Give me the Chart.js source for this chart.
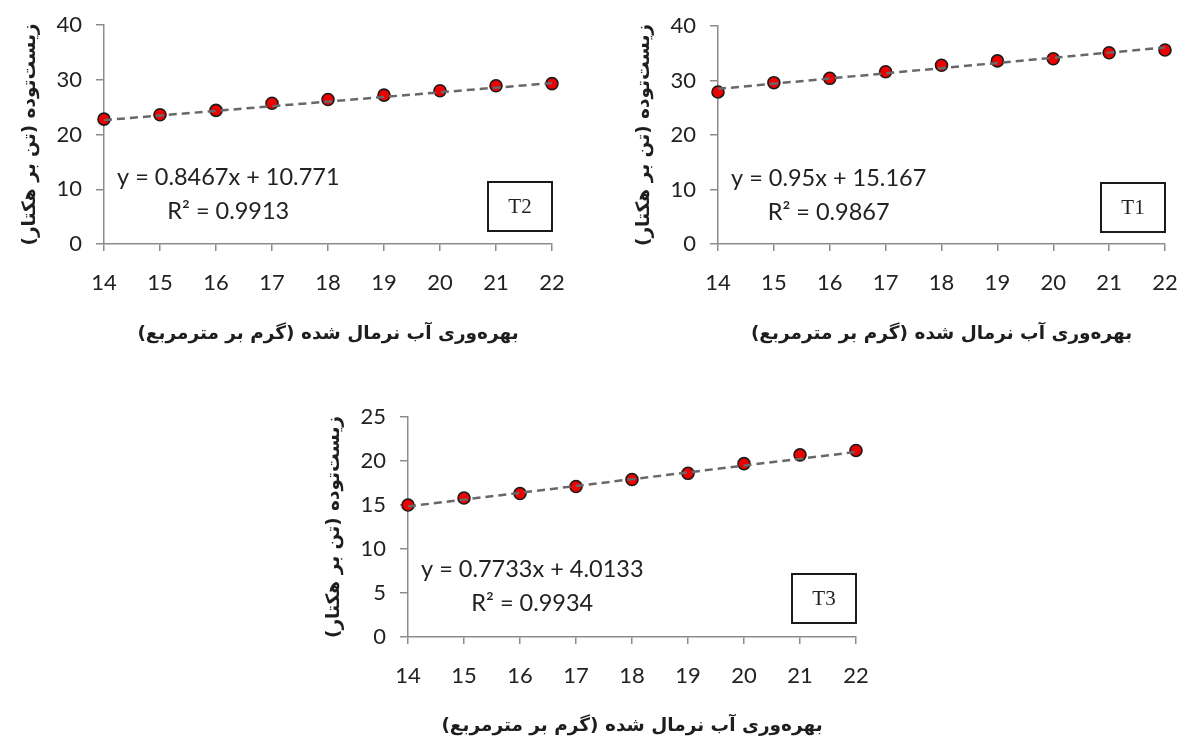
<!DOCTYPE html>
<html lang="fa">
<head>
<meta charset="utf-8">
<title>زیست‌توده و بهره‌وری آب</title>
<script src="https://cdn.jsdelivr.net/npm/chart.js@4.4.1/dist/chart.umd.min.js"></script>
<style>
  html, body { margin: 0; padding: 0; background: #ffffff; }
  body { position: relative; width: 1184px; height: 740px; overflow: hidden; }
  .panel { position: absolute; }
  .panel canvas { display: block; }
</style>
</head>
<body>
<div class="panel" id="panel-t2" style="left:0px;top:0px;"><canvas id="chart-t2" width="580" height="350"></canvas></div>
<div class="panel" id="panel-t1" style="left:600px;top:0px;"><canvas id="chart-t1" width="584" height="350"></canvas></div>
<div class="panel" id="panel-t3" style="left:300px;top:390px;"><canvas id="chart-t3" width="570" height="350"></canvas></div>

<script>
// Normalised water productivity (g/m²) on the x axis
const xValues = [14, 15, 16, 17, 18, 19, 20, 21, 22];

// Biomass (t/ha) for each treatment
const t1Biomass = [27.9, 29.6, 30.4, 31.6, 32.8, 33.6, 34.0, 35.1, 35.6];
const t2Biomass = [22.8, 23.6, 24.4, 25.7, 26.4, 27.2, 28.0, 28.9, 29.3];
const t3Biomass = [15.0, 15.8, 16.3, 17.1, 17.9, 18.6, 19.7, 20.7, 21.2];

// Linear fits as reported for each treatment
const treatmentNames = ['T1', 'T2', 'T3'];
const fitSlopes = [0.95, 0.8467, 0.7733];
const fitIntercepts = [15.167, 10.771, 4.0133];
const fitR2 = [0.9867, 0.9913, 0.9934];

// Axis ranges and tick spacing
const xTickMin = 14;
const xTickMax = 22;
const yTickMax = [40, 40, 25];
const yTickStep = [10, 10, 5];

// Axis titles
const xTitle = 'بهره‌وری آب نرمال شده (گرم بر مترمربع)';
const yTitle = 'زیست‌توده (تن بر هکتار)';

// Right-to-left marks keep the closing parenthesis on the correct side
const rtl = s => '\u200F' + s + '\u200F';

const TEXT = '#222222';
const AXIS = '#8c8c8c';

// Equation, R² and the treatment box inside each plot area
const fitLabelPlugin = {
  id: 'fitLabel',
  afterDatasetsDraw(chart, args, opts) {
    const { ctx, chartArea: a } = chart;
    ctx.save();
    ctx.fillStyle = TEXT;
    ctx.font = '23.5px Lato';
    ctx.textBaseline = 'middle';
    const eq = 'y = ' + opts.slope + 'x + ' + opts.intercept;
    const eqLeft = a.left + 13;
    const eqWidth = ctx.measureText(eq).width;
    ctx.textAlign = 'left';
    ctx.fillText(eq, eqLeft, a.top + 152);
    ctx.textAlign = 'center';
    ctx.fillText('R² = ' + opts.r2, eqLeft + eqWidth / 2, a.top + 186);

    const bw = 64, bh = 49;
    const bx = a.right - bw, by = a.top + 157;
    ctx.lineWidth = 2;
    ctx.strokeStyle = '#1a1a1a';
    ctx.strokeRect(bx, by, bw, bh);
    ctx.font = '21px "Liberation Serif"';
    ctx.fillText(opts.label, bx + bw / 2, by + bh / 2 + 1);
    ctx.restore();
  }
};

function buildPanel(canvasId, series, i, layout) {
  const slope = fitSlopes[i];
  const intercept = fitIntercepts[i];
  const points = xValues.map((x, k) => ({ x: x, y: series[k] }));
  const trend = [xTickMin, xTickMax].map(x => ({ x: x, y: slope * x + intercept }));

  const yAxisWidth = 88;
  const padLeft = layout.areaLeft - yAxisWidth;
  const padRight = layout.canvasWidth - layout.areaRight;
  const padBottom = layout.canvasHeight - layout.titleY - 12;
  const xAxisHeight = layout.titleY + 12 - layout.areaBottom;

  return new Chart(document.getElementById(canvasId), {
    type: 'scatter',
    data: {
      datasets: [
        {
          type: 'line',
          data: trend,
          borderColor: '#686868',
          borderWidth: 2.5,
          borderDash: [8, 5],
          pointRadius: 0,
          fill: false,
          clip: false,
          order: 0
        },
        {
          data: points,
          backgroundColor: '#ee0000',
          borderColor: '#1a1a1a',
          borderWidth: 1.6,
          pointRadius: 6,
          clip: false,
          order: 1
        }
      ]
    },
    options: {
      responsive: false,
      animation: false,
      events: [],
      layout: { padding: { left: padLeft, right: padRight, top: layout.areaTop, bottom: padBottom } },
      plugins: {
        legend: { display: false },
        tooltip: { enabled: false },
        fitLabel: { slope: slope, intercept: intercept, r2: fitR2[i], label: treatmentNames[i] }
      },
      scales: {
        x: {
          type: 'linear',
          min: xTickMin,
          max: xTickMax,
          afterFit(scale) { scale.height = xAxisHeight; },
          ticks: { stepSize: 1, color: TEXT, font: { family: 'Lato', size: 22, lineHeight: 2.9 }, padding: 0, maxRotation: 0 },
          grid: { drawOnChartArea: false, drawTicks: true, tickLength: 7, color: AXIS, lineWidth: 1.5 },
          border: { display: true, color: AXIS, width: 1.5 },
          title: {
            display: true,
            text: rtl(xTitle),
            color: '#1e1e1e',
            font: { family: '"DejaVu Sans"', size: 18.5, weight: 'bold' },
            padding: { top: 0, bottom: 0 }
          }
        },
        y: {
          type: 'linear',
          min: 0,
          max: yTickMax[i],
          afterFit(scale) { scale.width = yAxisWidth; },
          ticks: { stepSize: yTickStep[i], color: TEXT, font: { family: 'Lato', size: 22, lineHeight: 1 }, padding: 14 },
          grid: { drawOnChartArea: false, drawTicks: true, tickLength: 8, color: AXIS, lineWidth: 1.5 },
          border: { display: true, color: AXIS, width: 1.5 },
          title: {
            display: true,
            text: rtl(yTitle),
            color: '#1e1e1e',
            font: { family: '"DejaVu Sans"', size: 18.5, weight: 'bold' },
            padding: { top: 3, bottom: 0 }
          }
        }
      }
    },
    plugins: [fitLabelPlugin]
  });
}

function buildAll() {
  buildPanel('chart-t2', t2Biomass, 1, { canvasWidth: 580, canvasHeight: 350, areaLeft: 104, areaRight: 552, areaTop: 25, areaBottom: 244, titleY: 333 });
  buildPanel('chart-t1', t1Biomass, 0, { canvasWidth: 584, canvasHeight: 350, areaLeft: 118, areaRight: 565, areaTop: 26, areaBottom: 244, titleY: 333 });
  buildPanel('chart-t3', t3Biomass, 2, { canvasWidth: 570, canvasHeight: 350, areaLeft: 108, areaRight: 556, areaTop: 27, areaBottom: 247, titleY: 335 });
}

const fontsReady = document.fonts
  ? Promise.all([
      document.fonts.load('22px Lato'),
      document.fonts.load('bold 18px "DejaVu Sans"'),
      document.fonts.load('21px "Liberation Serif"')
    ]).catch(() => null)
  : Promise.resolve();
fontsReady.then(buildAll);
</script>
</body>
</html>
